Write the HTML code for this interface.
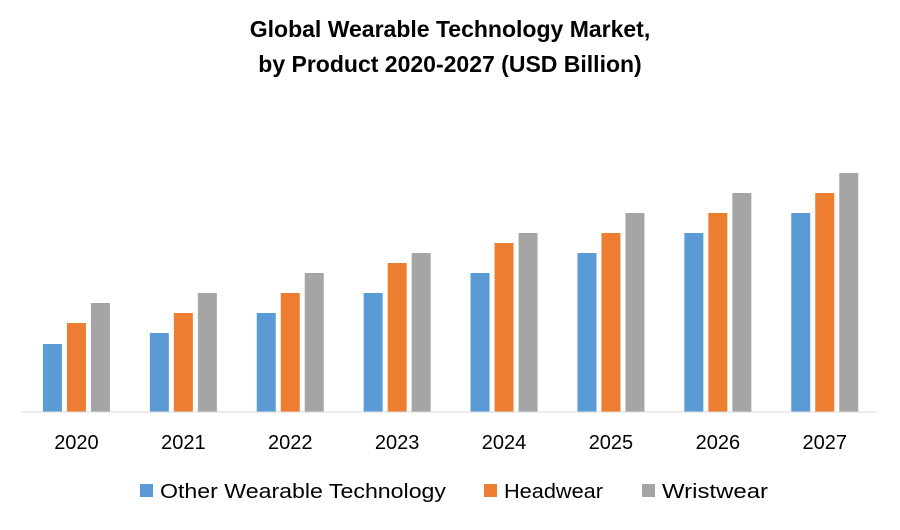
<!DOCTYPE html>
<html><head><meta charset="utf-8"><style>
body{margin:0;background:#fff;font-family:"Liberation Sans",Calibri,sans-serif}
</style></head><body>
<svg id="chart" width="900" height="525" viewBox="0 0 900 525" xmlns="http://www.w3.org/2000/svg" font-family="Liberation Sans, sans-serif">
<text x="450" y="37" text-anchor="middle" font-size="23" font-weight="bold" fill="#000">Global Wearable Technology Market,</text>
<text x="450" y="72" text-anchor="middle" font-size="23" font-weight="bold" fill="#000">by Product 2020-2027 (USD Billion)</text>
<g id="bars"></g>
<line x1="22" y1="412" x2="877" y2="412" stroke="#d9d9d9" stroke-width="1"/>
<g id="xlabels"></g>
<g>
<g><rect x="140" y="484" width="13" height="13" fill="#5b9bd5"/><text x="160" y="498" font-size="20" fill="#000" textLength="286" lengthAdjust="spacingAndGlyphs">Other Wearable Technology</text></g>
<g><rect x="484" y="484" width="13" height="13" fill="#ed7d31"/><text x="504" y="498" font-size="20" fill="#000" textLength="99" lengthAdjust="spacingAndGlyphs">Headwear</text></g>
<g><rect x="642" y="484" width="13" height="13" fill="#a5a5a5"/><text x="662" y="498" font-size="20" fill="#000" textLength="106" lengthAdjust="spacingAndGlyphs">Wristwear</text></g>
</g>
</svg>
<script>
const categories=["2020","2021","2022","2023","2024","2025","2026","2027"];
const otherValues=[6.8,7.9,9.9,11.9,13.9,15.9,17.9,19.9];
const headwearValues=[8.9,9.9,11.9,14.9,16.9,17.9,19.9,21.9];
const wristwearValues=[10.9,11.9,13.9,15.9,17.9,19.9,21.9,23.9];
const ns="http://www.w3.org/2000/svg";
const baseY=412, pxPerUnit=10, x0=22, groupW=106.9, barW=19, step=24;
function yScale(v){return baseY-v*pxPerUnit;}
function xCenter(i){return x0+groupW*(i+0.5)+1;}
const series=[[otherValues,"#5b9bd5","other"],[headwearValues,"#ed7d31","headwear"],[wristwearValues,"#a5a5a5","wristwear"]];
const bars=document.getElementById("bars");
categories.forEach((c,i)=>{
  series.forEach((s,j)=>{
    const r=document.createElementNS(ns,"rect");
    const v=s[0][i];
    r.setAttribute("x",xCenter(i)+(j-1)*step-barW/2);
    r.setAttribute("y",yScale(v));
    r.setAttribute("width",barW);
    r.setAttribute("height",baseY-yScale(v));
    r.setAttribute("fill",s[1]);
    
    
    bars.appendChild(r);
  });
  const t=document.createElementNS(ns,"text");
  t.setAttribute("x",xCenter(i));t.setAttribute("y",449);
  t.setAttribute("text-anchor","middle");t.setAttribute("font-size","20");
  t.textContent=c;
  
  
  document.getElementById("xlabels").appendChild(t);
});
</script>
</body></html>
